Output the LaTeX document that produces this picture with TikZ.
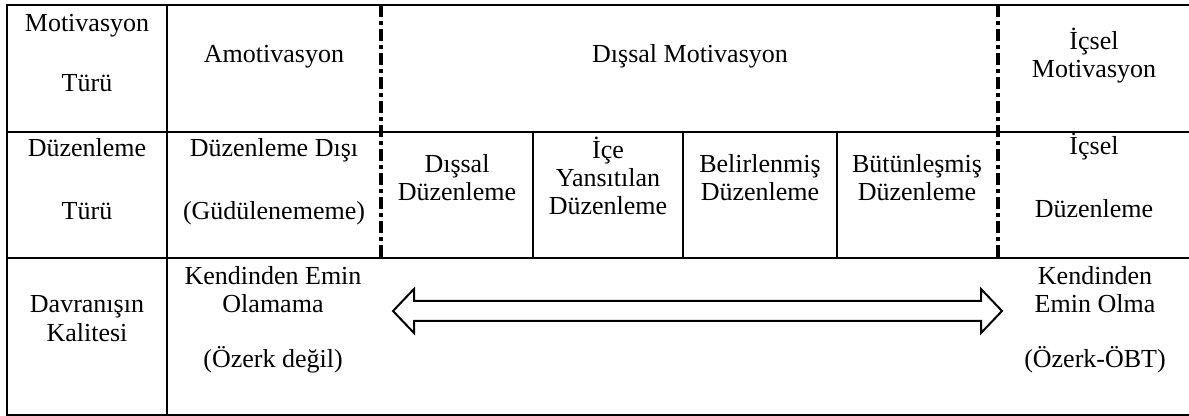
\documentclass[tikz,border=0pt]{standalone}
\usepackage{fontspec}
\setmainfont{Liberation Serif}
\begin{document}
\begin{tikzpicture}[x=0.5pt,y=-0.5pt,
  grid/.style={line width=1.2pt, line cap=rect},
  dashsep/.style={line width=1.8pt, dash pattern=on 6pt off 2pt on 2pt off 2pt},
  lbl/.style={anchor=base, inner sep=0pt, font=\fontsize{13}{14}\selectfont},
  dblarrow/.style={line width=1pt, line join=miter, fill=white}]
\useasboundingbox (0,0) rectangle (1189,416);
% horizontal rules
\draw[grid] (7,5) -- (1189,5);
\draw[grid] (7,132) -- (1189,132);
\draw[grid] (7,258) -- (1189,258);
\draw[grid] (7,415) -- (1189,415);
% vertical rules
\draw[grid] (7,5) -- (7,415);
\draw[grid] (167,5) -- (167,415);
\draw[grid] (533,132) -- (533,258);
\draw[grid] (683,132) -- (683,258);
\draw[grid] (837,132) -- (837,258);
% dash-dot separators
\draw[dashsep] (381,5) -- (381,258);
\draw[dashsep] (998,5) -- (998,258);
% row 1
\node[lbl] (mt1) at (87,32) {Motivasyon};
\node[lbl] (mt2) at (87,92) {Türü};
\node[lbl] (amo) at (274,63) {Amotivasyon};
\node[lbl] (dis) at (690,63) {Dışsal Motivasyon};
\node[lbl] (ic1) at (1094,50) {İçsel};
\node[lbl] (ic2) at (1094,78) {Motivasyon};
% row 2
\node[lbl] (dt1) at (87,157) {Düzenleme};
\node[lbl] (dt2) at (87,220) {Türü};
\node[lbl] (dd1) at (274,157) {Düzenleme Dışı};
\node[lbl] (dd2) at (274,220) {(Güdülenememe)};
\node[lbl] (ds1) at (457,173) {Dışsal};
\node[lbl] (ds2) at (457,201) {Düzenleme};
\node[lbl] (iy1) at (608,159) {İçe};
\node[lbl] (iy2) at (608,187) {Yansıtılan};
\node[lbl] (iy3) at (608,215) {Düzenleme};
\node[lbl] (be1) at (760,173) {Belirlenmiş};
\node[lbl] (be2) at (760,201) {Düzenleme};
\node[lbl] (bu1) at (917,173) {Bütünleşmiş};
\node[lbl] (bu2) at (917,201) {Düzenleme};
\node[lbl] (id1) at (1094,155) {İçsel};
\node[lbl] (id2) at (1094,218) {Düzenleme};
% row 3
\node[lbl] (dk1) at (87,313) {Davranışın};
\node[lbl] (dk2) at (87,342) {Kalitesi};
\node[lbl] (ke1) at (273,285) {Kendinden Emin};
\node[lbl] (ke2) at (273,313) {Olamama};
\node[lbl] (ke3) at (273,368) {(Özerk değil)};
\node[lbl] (ko1) at (1095,285) {Kendinden};
\node[lbl] (ko2) at (1095,313) {Emin Olma};
\node[lbl] (ko3) at (1095,368) {(Özerk-ÖBT)};
% double arrow
\coordinate (ltip) at (393,311);
\coordinate (rtip) at (1002,311);
\draw[dblarrow] (ltip) -- (414,289) -- (414,301) -- (981,301) -- (981,289)
  -- (rtip) -- (981,333) -- (981,321) -- (414,321) -- (414,333) -- cycle;
\end{tikzpicture}
\end{document}
